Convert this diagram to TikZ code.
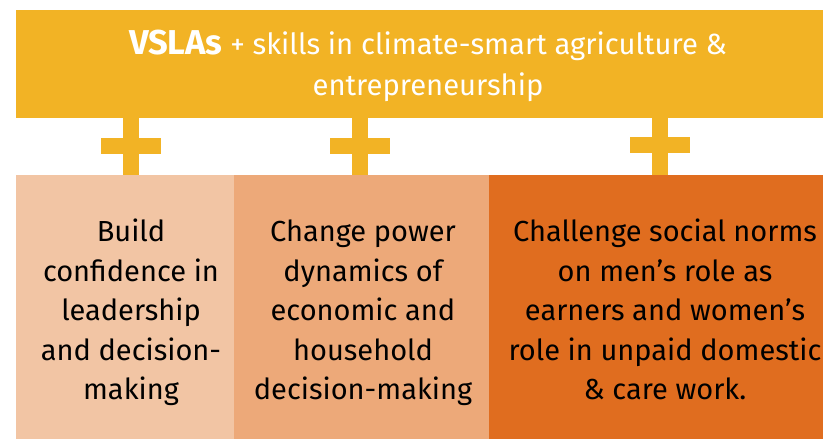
\documentclass[tikz,border=0pt]{standalone}
\usepackage{fontspec}
\setmainfont{Fira Sans}
\usepackage{xcolor}
\definecolor{bannergold}{HTML}{F2B325}
\definecolor{lightpeach}{HTML}{F2C5A4}
\definecolor{midpeach}{HTML}{EDA979}
\definecolor{deeporange}{HTML}{E06D1F}
\tikzset{
	bannertext/.style={align=center, anchor=base, inner sep=0pt, text=white,
			font=\fontsize{29.2}{41}\selectfont},
	boxtext/.style={align=center, anchor=base, inner sep=0pt, text=black,
			font=\fontsize{29}{39.5}\selectfont}
}

\begin{document}
\begin{tikzpicture}[x=1pt, y=-1pt]
		\useasboundingbox (0, 0) rectangle (823, 439);
		\clip (0, 0) rectangle (823, 439);

		\fill[bannergold]	(16, 10) rectangle (830, 117.5);
		\node[bannertext] (title) at (428, 95)
			{{\fontsize{34.5}{41}\selectfont\bfseries VSLAs} + skills in climate-smart agriculture \&\\entrepreneurship};

		\fill[bannergold]	(123, 117) rectangle (139, 176);
		\fill[bannergold]	(101, 138) rectangle (161, 154);
		\fill[bannergold]	(352, 117) rectangle (368, 176);
		\fill[bannergold]	(330, 138) rectangle (390, 154);
		\fill[bannergold]	(652, 117) rectangle (668, 176);
		\fill[bannergold]	(630, 137) rectangle (690, 153);

		\fill[lightpeach]	(16, 175) rectangle (234, 439);
		\fill[midpeach]	(234, 175) rectangle (489, 439);
		\fill[deeporange]	(489, 175) rectangle (830, 439);

		\node[boxtext] (build) at (131, 399.7)
			{Build\\confidence in\\leadership\\and decision-\\making};
		\node[boxtext] (change) at (363, 399.7)
			{Change power\\dynamics of\\economic and\\household\\decision-making};
		\node[boxtext] (challenge) at (665, 399.7)
			{Challenge social norms\\on men’s role as\\earners and women’s\\role in unpaid domestic\\\& care work.};
\end{tikzpicture}
\end{document}
